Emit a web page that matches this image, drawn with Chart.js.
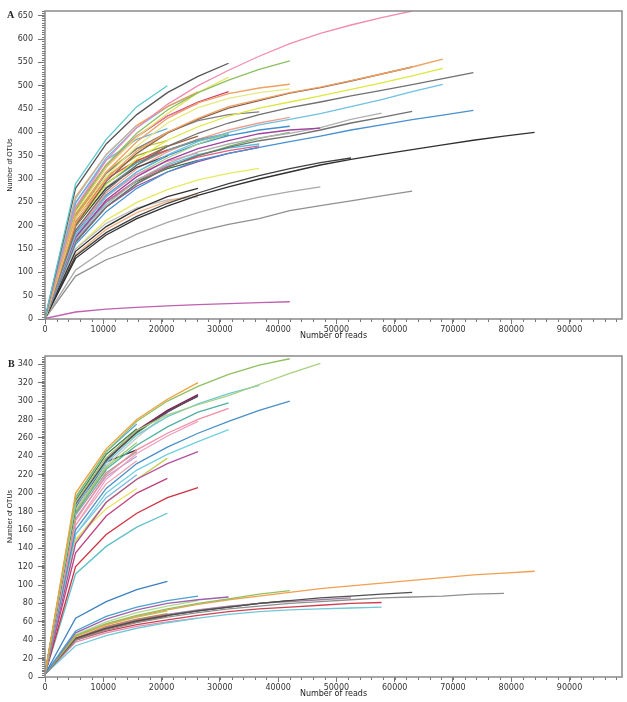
<!DOCTYPE html>
<html>
<head>
<meta charset="utf-8">
<script src="https://cdn.jsdelivr.net/npm/chart.js@4.4.1/dist/chart.umd.min.js"></script>
<style>
  body { margin: 0; background: #fff; }
  #wrap { position: relative; width: 627px; height: 702px; }
  canvas { position: absolute; left: 0; }
  .tag { position: absolute; font: bold 10px "Liberation Serif", serif; color: #222; }
</style>
</head>
<body>
<div id="wrap">
  <canvas id="chartA" width="627" height="342" style="top:0"></canvas>
  <canvas id="chartB" width="627" height="359" style="top:343px"></canvas>
  <div class="tag" style="left:7px; top:9px">A</div>
  <div class="tag" style="left:8px; top:358px">B</div>
</div>
<script>
// rarefaction steps (reads sampled)
const reads = [0, 5250, 10500, 15750, 21000, 26250, 31500, 36750, 42000,
  47250, 52500, 57750, 63000, 68250, 73500, 78750, 84000];

// tick labels
const xLabels = [0, 10000, 20000, 30000, 40000, 50000, 60000, 70000, 80000, 90000];
const yLabelsA = [0, 50, 100, 150, 200, 250, 300, 350, 400, 450, 500, 550, 600, 650];
const yLabelsB = [0, 20, 40, 60, 80, 100, 120, 140, 160, 180, 200, 220, 240, 260, 280, 300, 320, 340];

// panel A - number of OTUs per curve, one value per step
const otusA = [
  [1, 290, 385, 455, 500],
  [1, 280, 375, 438, 485, 520, 548],
  [1, 240, 340, 410, 460, 500, 533, 563, 590, 612, 630, 646, 660],
  [1, 235, 330, 398, 448, 485, 512, 535, 553],
  [1, 230, 325, 390, 440, 485, 518],
  [1, 220, 315, 380, 430, 463, 483, 495, 503],
  [1, 215, 305, 370, 420, 453, 473, 485, 493],
  [1, 205, 300, 360, 400, 430, 455, 470, 485, 497, 511, 525, 540, 557],
  [1, 200, 295, 355, 398, 428, 452, 468, 484, 496, 510, 525, 540],
  [1, 200, 288, 343, 383, 412, 435, 452, 465, 478, 492, 506, 521, 537],
  [1, 190, 275, 330, 370, 398, 420, 438, 453, 465, 478, 490, 502, 515, 528],
  [1, 180, 262, 315, 352, 380, 400, 416, 428, 440, 455, 470, 487, 503],
  [1, 175, 255, 305, 340, 365, 382, 397, 405, 409],
  [1, 170, 245, 297, 333, 358, 375, 388, 398, 410, 428, 441],
  [1, 165, 240, 290, 325, 350, 368, 382, 392, 405, 420, 432, 445],
  [1, 160, 230, 280, 315, 340, 355, 368, 380, 392, 405, 416, 427, 437, 447],
  [1, 130, 180, 215, 242, 265, 283, 300, 315, 330, 342, 353, 363, 373, 383, 392, 400],
  [1, 135, 185, 220, 248, 270, 290, 307, 322, 335, 345],
  [1, 105, 150, 182, 207, 228, 246, 261, 273, 283],
  [1, 92, 127, 150, 170, 188, 203, 215, 232, 243, 253, 264, 274],
  [1, 15, 21, 25, 28, 31, 33, 35, 37],
  [1, 250, 340, 385, 408],
  [1, 258, 352, 415],
  [1, 200, 280, 325, 350],
  [1, 215, 300, 340, 362],
  [1, 262, 352, 415, 455, 487],
  [1, 248, 345, 410, 455, 485],
  [1, 240, 330, 392, 435, 462],
  [1, 190, 262, 310, 338, 356],
  [1, 145, 198, 235, 262, 280],
  [1, 138, 192, 228, 252, 268],
  [1, 150, 205, 238, 255, 262],
  [1, 232, 325, 390, 435, 465, 487],
  [1, 180, 262, 310, 345, 375, 398],
  [1, 198, 282, 330, 362, 385, 398],
  [1, 222, 312, 365, 400, 425, 438, 444],
  [1, 150, 212, 250, 277, 298, 312, 323],
  [1, 178, 252, 297, 327, 347, 361, 371],
  [1, 168, 240, 285, 315, 337, 355, 368],
  [1, 185, 265, 315, 350, 375, 393, 405, 413],
  [1, 165, 240, 290, 325, 350, 370, 387, 400],
  [1, 205, 290, 335, 362, 382, 395],
  [1, 220, 305, 350, 372],
  [1, 208, 290, 338, 370, 392],
  [1, 175, 250, 298, 330, 352, 366, 375],
  [1, 190, 270, 322, 358, 385, 405, 420, 432],
  [1, 175, 250, 295, 322, 340],
  [1, 225, 315, 365, 382]
];

const coloursA = [
  '#5bc8d0', '#555555', '#f08cb0', '#8cc060', '#e8e060', '#f0a060', '#e8e880', '#f0a060',
  '#806050', '#dde840', '#707070', '#70c0e0', '#a040a0', '#b0b0b0', '#707070', '#4a90d0',
  '#303030', '#404040', '#a8a8a8', '#909090', '#c060b0',
  '#6ab0e0', '#b8b8b8', '#404040', '#e05050', '#f0a050', '#70b8e8', '#e070b0', '#f090b0',
  '#303030', '#f0b080', '#c0c0c0', '#d04070', '#a0d080', '#909090', '#808080', '#e8e860',
  '#e06080', '#9050a0', '#4090d0', '#70b060', '#40a0a0', '#a0a030', '#a06040', '#50c0e0',
  '#f0a090', '#407040', '#c8c040'
];

// panel B
const otusB = [
  [3, 200, 248, 280, 302, 320],
  [3, 196, 245, 278, 300, 316, 329, 339, 346],
  [3, 190, 238, 268, 285, 296, 306, 318, 330, 341],
  [3, 186, 233, 263, 283, 297, 308, 317],
  [3, 189, 238, 268, 290, 307],
  [3, 185, 235, 266, 289, 305],
  [3, 187, 236, 267, 288, 306],
  [3, 170, 220, 247, 265, 280, 292],
  [3, 160, 205, 232, 250, 265, 278, 290, 300],
  [3, 155, 200, 225, 242, 256, 269],
  [3, 145, 190, 215, 232, 245],
  [3, 150, 183, 205],
  [3, 135, 175, 200, 216],
  [3, 120, 155, 178, 195, 206],
  [3, 112, 142, 163, 178],
  [3, 195, 245, 275],
  [3, 185, 237],
  [3, 180, 228, 255],
  [3, 176, 222, 245],
  [3, 165, 210, 235],
  [3, 190, 237, 265, 289],
  [3, 182, 230, 260, 287],
  [3, 178, 226, 252, 272, 288, 298],
  [3, 182, 225],
  [3, 178, 230],
  [3, 155, 195, 220],
  [3, 148, 190, 215, 238],
  [3, 192, 242, 270],
  [3, 165, 215, 243, 262, 278],
  [3, 180, 234, 247],
  [3, 172, 218, 240],
  [3, 64, 82, 95, 104],
  [3, 50, 66, 76, 83, 88],
  [3, 48, 63, 73, 80, 84, 87],
  [3, 45, 58, 67, 74, 80, 85, 90, 94],
  [3, 44, 57, 66, 73, 79, 84, 88, 92, 96, 99, 102, 105, 108, 111, 113, 115],
  [3, 42, 53, 61, 67, 72, 76, 80, 83, 86, 88, 90, 92],
  [3, 40, 51, 59, 65, 70, 74, 77, 80, 82, 84, 86, 87, 88, 90, 91],
  [3, 42, 54, 62, 68, 73, 77, 80, 82, 84, 86],
  [3, 40, 50, 57, 62, 67, 71, 74, 76, 78, 80, 81],
  [3, 34, 45, 53, 59, 64, 68, 71, 73, 74, 75, 76],
  [3, 42, 55, 63, 69],
  [3, 45, 57, 65, 72],
  [3, 41, 52, 60, 66],
  [3, 38, 48, 55, 60, 64],
  [3, 46, 60, 70, 77, 83],
  [3, 42, 53, 61, 67, 72, 76, 80, 83]
];

const coloursB = [
  '#f0a040', '#90c060', '#a8d080', '#70c8d0', '#802050', '#505050', '#604080', '#f090a0',
  '#4a90c8', '#70d0e0', '#b050a0', '#e8e060', '#c04080', '#d03040', '#60c0c8', '#60a8e0',
  '#606020', '#98d070', '#a0a0a0', '#f0a0b0', '#70c070', '#c8c8c8', '#50b0a0', '#e08040',
  '#904020', '#80b8e0', '#c0d050', '#408040', '#f0a0c0', '#303030', '#b0a0d0',
  '#3a80c0', '#4aa0d0', '#a060b0', '#90c060', '#f0a050', '#505050', '#909090', '#a080a0',
  '#d04050', '#70c8d8', '#e08030', '#a0d070', '#a05030', '#e090b0', '#b0d890', '#303030'
];

function makeSets(curves, colours) {
  return curves.map((c, i) => ({
    data: c.map((v, j) => ({x: reads[j], y: v})),
    borderColor: colours[i],
    borderWidth: 1.3,
    pointRadius: 0,
    showLine: true,
    fill: false,
    tension: 0
  }));
}

// minor ticks and the box around the plot
function makeFrame(xMinor, yMinor) {
  return {
    id: 'frame',
    afterDraw(chart) {
      const ctx = chart.ctx;
      const a = chart.chartArea;
      const x = chart.scales.x, y = chart.scales.y;
      ctx.save();
      ctx.strokeStyle = '#777';
      ctx.lineWidth = 1;
      ctx.beginPath();
      for (let v = 0; v <= x.max; v += xMinor) {
        const px = Math.round(x.getPixelForValue(v)) + 0.5;
        ctx.moveTo(px, a.bottom);
        ctx.lineTo(px, a.bottom + 3);
      }
      for (let v = 0; v <= y.max; v += yMinor) {
        const py = Math.round(y.getPixelForValue(v)) + 0.5;
        ctx.moveTo(a.left - 3, py);
        ctx.lineTo(a.left, py);
      }
      ctx.stroke();
      ctx.strokeStyle = '#8a8a8a';
      ctx.lineWidth = 1.5;
      ctx.strokeRect(a.left, a.top, a.right - a.left, a.bottom - a.top);
      ctx.restore();
    }
  };
}

function makeOptions(ymax, yLabels, padTop, xHeight, titlePad) {
  return {
    responsive: false,
    animation: false,
    layout: {padding: {top: padTop, right: 5, left: 0, bottom: 0}},
    plugins: {legend: {display: false}, tooltip: {enabled: false}},
    scales: {
      x: {
        type: 'linear',
        min: 0,
        max: 99000,
        afterBuildTicks: (axis) => { axis.ticks = xLabels.map(v => ({value: v})); },
        afterFit: (axis) => { axis.height = xHeight; },
        border: {display: false},
        grid: {drawOnChartArea: false, drawTicks: true, tickLength: 5, color: '#777'},
        ticks: {
          autoSkip: false,
          maxRotation: 0,
          padding: 1,
          color: '#333',
          font: {family: 'DejaVu Sans', size: 8},
          callback: (v) => String(v)
        },
        title: {
          display: true,
          text: 'Number of reads',
          color: '#222',
          font: {family: 'DejaVu Sans', size: 8},
          padding: {top: 0, bottom: titlePad}
        }
      },
      y: {
        min: 0,
        max: ymax,
        afterBuildTicks: (axis) => { axis.ticks = yLabels.map(v => ({value: v})); },
        afterFit: (axis) => { axis.width = 45; },
        border: {display: false},
        grid: {drawOnChartArea: false, drawTicks: true, tickLength: 7, color: '#777'},
        ticks: {
          autoSkip: false,
          padding: 5,
          color: '#333',
          font: {family: 'DejaVu Sans', size: 8},
          callback: (v) => String(v)
        },
        title: {
          display: true,
          text: 'Number of OTUs',
          color: '#222',
          font: {family: 'Liberation Sans', size: 7},
          padding: {top: 6, bottom: 0}
        }
      }
    }
  };
}

new Chart(document.getElementById('chartA'), {
  type: 'scatter',
  data: {datasets: makeSets(otusA, coloursA)},
  options: makeOptions(660, yLabelsA, 11, 23, 1),
  plugins: [makeFrame(2000, 5)]
});

new Chart(document.getElementById('chartB'), {
  type: 'scatter',
  data: {datasets: makeSets(otusB, coloursB)},
  options: makeOptions(349, yLabelsB, 13, 25, 3),
  plugins: [makeFrame(2000, 2)]
});
</script>
</body>
</html>
